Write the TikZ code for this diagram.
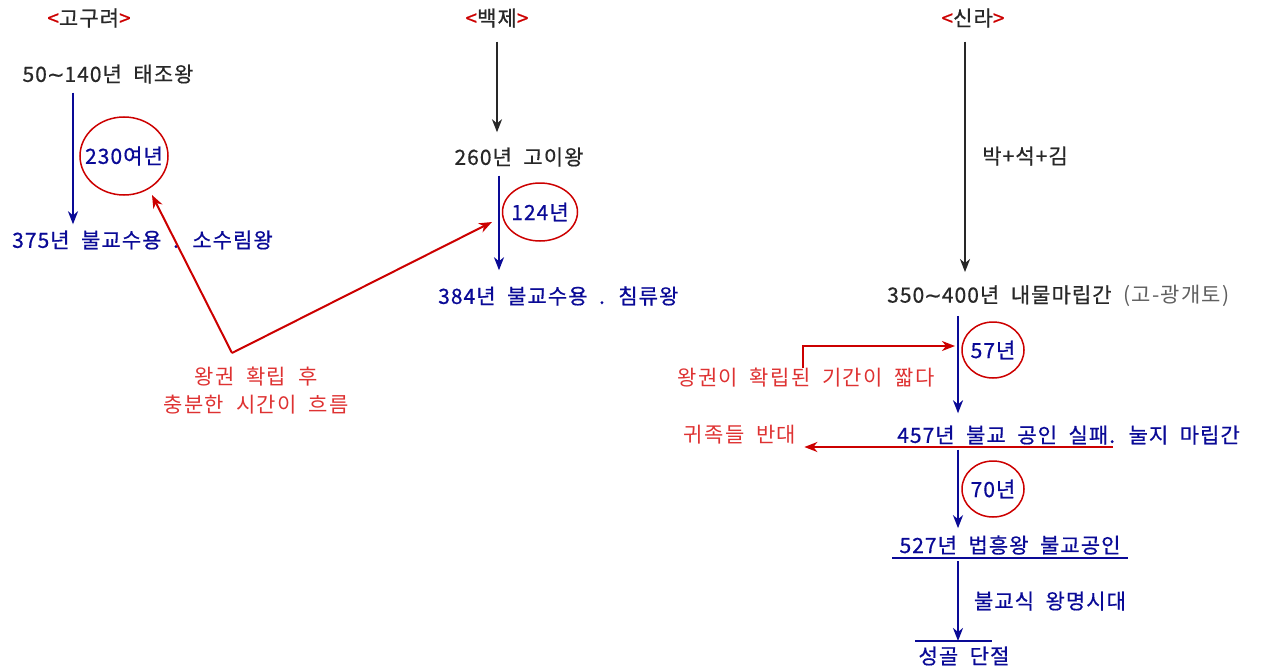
\documentclass[tikz,border=0pt]{standalone}
\usepackage{fontspec}
\setmainfont{Noto Sans CJK KR}[WordSpace=2, LetterSpace=5, FakeBold=0.6]
\newfontfamily\rfont{Noto Sans CJK KR}[WordSpace=2, LetterSpace=6]
\newfontfamily\dvfont{DejaVu Sans}[FakeBold=0.6]
\usetikzlibrary{arrows.meta,shapes.geometric,calc}
\definecolor{cnavy}{RGB}{10,10,150}
\definecolor{cdark}{RGB}{40,40,40}
\definecolor{cred}{RGB}{204,0,0}
\definecolor{ctred}{RGB}{222,50,50}
\definecolor{cgray}{RGB}{95,95,95}
\newcommand{\wave}{{\dvfont ∼}}
\begin{document}
\begin{tikzpicture}[x=1pt,y=-1pt,
  every node/.style={inner sep=0pt, font=\fontsize{21}{28}\selectfont},
  dk/.style={text=cdark},
  bl/.style={text=cnavy},
  rd/.style={text=ctred, font=\fontsize{21}{28}\selectfont\rfont},
  tip/.style={-{Stealth[length=13pt,width=10pt,inset=4pt]}},
  barrow/.style={draw=cnavy, line width=2pt, tip},
  karrow/.style={draw=cdark, line width=2pt, tip},
  rarrow/.style={draw=cred, line width=2pt, tip},
  oval/.style={ellipse, draw=cred, line width=1.5pt, text=cnavy}
]
\useasboundingbox (0,0) rectangle (1263,669);
\newcommand{\hd}[1]{{\color{cred}<}#1{\color{cred}>}}
% headers
\node[dk] (gh) at (89,18) {\hd{고구려}};
\node[dk] (bh) at (497,18) {\hd{백제}};
\node[dk] (sh) at (973,18) {\hd{신라}};
% Goguryeo
\node[dk] (g1) at (108,74) {50\wave140년 태조왕};
\node[bl, anchor=west] (g2) at (12,240) {375년 불교수용 . 소수림왕};
\node[oval, inner xsep=-8pt, minimum width=88pt, minimum height=78pt] (ge) at (124,156) {230여년};
\coordinate (gx) at (73,0);
\draw[barrow, shorten <=9pt, shorten >=6pt] (gx |- g1.south) -- (gx |- g2.north);
% Baekje
\node[dk] (b1) at (519,157) {260년 고이왕};
\node[bl, anchor=west] (b2) at (438,296) {384년 불교수용 . 침류왕};
\node[oval, inner xsep=-3pt, minimum width=75pt, minimum height=58pt] (be) at (540,212) {124년};
\coordinate (bx) at (497,0);
\coordinate (bx2) at (499,0);
\draw[karrow, shorten <=14pt, shorten >=15pt] (bx |- bh.south) -- (bx |- b1.north);
\draw[barrow, shorten <=9pt, shorten >=16pt] (bx2 |- b1.south) -- (bx2 |- b2.north);
% red note left
\node[rd, align=center] (r1) at (256,391) {왕권 확립 후\\충분한 시간이 흐름};
\coordinate (rs) at (232,353);
\coordinate (gt) at (152,195);
\coordinate (bt) at (492,222);
\draw[rarrow] (rs) -- (gt);
\draw[rarrow] (rs) -- (bt);
% Silla
\node[dk, anchor=west] (s1) at (887,296) {350\wave400년 내물마립간 {\rfont\color{cgray}(고-광개토)}};
\node[dk] (sl) at (1025,156) {박+석+김};
\coordinate (sx) at (965,0);
\coordinate (sx2) at (958,0);
\draw[karrow, shorten <=14pt, shorten >=13pt] (sx |- sh.south) -- (sx |- s1.north);
\node[bl, anchor=west] (s2) at (897,435) {457년 불교 공인 실패. 눌지 마립간};
\node[oval, inner xsep=-3pt, minimum width=62pt, minimum height=56pt] (e57) at (993,350) {57년};
\draw[barrow, shorten <=9pt, shorten >=12pt] (sx2 |- s1.south) -- (sx2 |- s2.north);
\node[rd] (r2) at (806,378) {왕권이 확립된 기간이 짧다};
\coordinate (ct) at (955,346);
\draw[rarrow] ([xshift=-3pt]r2.north) |- (ct);
\node[rd] (r3) at (740,435) {귀족들 반대};
\coordinate (cs) at (1113,447);
\draw[rarrow, shorten >=8pt] (cs) -- (cs -| r3.east);
\node[bl] (s3) at (1010,545) {527년 법흥왕 불교공인};
\node[oval, inner xsep=-3pt, minimum width=62pt, minimum height=56pt] (e70) at (993,489) {70년};
\draw[barrow, shorten <=5pt, shorten >=7pt] (sx2 |- s2.south) -- (sx2 |- s3.north);
\coordinate (u1) at (892,558);
\coordinate (u2) at (1128,558);
\draw[cnavy, line width=2pt] (u1) -- (u2);
\node[bl] (sl2) at (1050,601) {불교식 왕명시대};
\node[bl] (s4) at (964,656) {성골 단절};
\coordinate (o1) at (915,641);
\coordinate (o2) at (992,641);
\draw[cnavy, line width=2pt] (o1) -- (o2);
\draw[barrow] (sx2 |- u1) ++(0,3) -- (sx2 |- o1);
\end{tikzpicture}
\end{document}
